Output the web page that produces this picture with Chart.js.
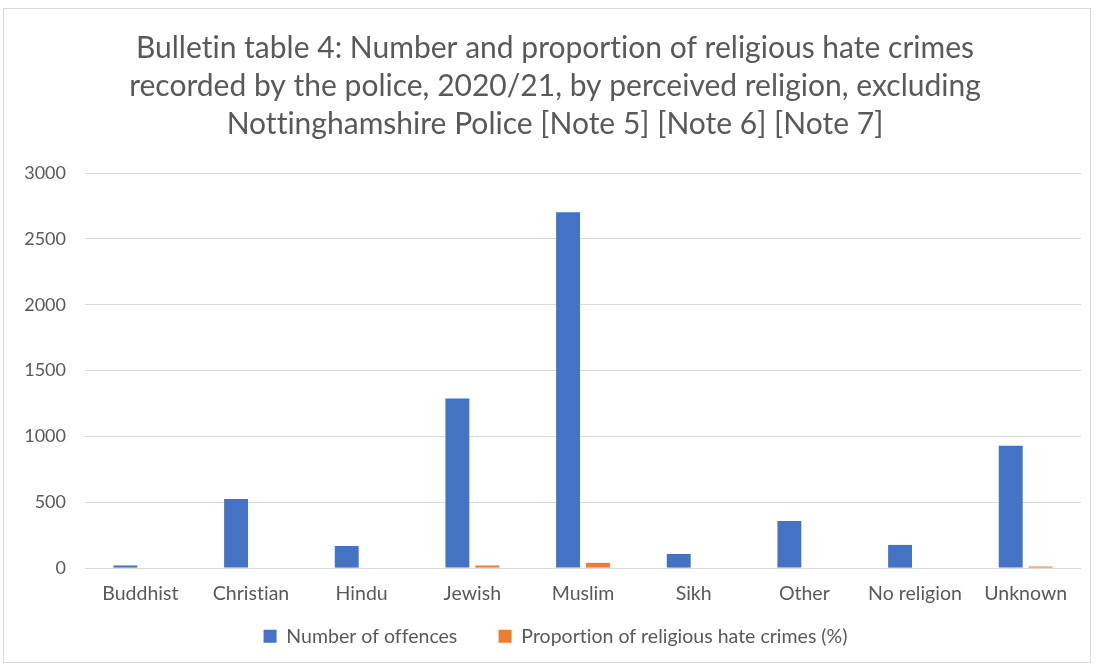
<!DOCTYPE html>
<html>
<head>
<meta charset="utf-8">
<script src="https://cdn.jsdelivr.net/npm/chart.js@4/dist/chart.umd.min.js"></script>
<style>
  html, body { margin: 0; padding: 0; background: #fff; }
  #wrap { position: relative; width: 1096px; height: 669px; }
  #frame { position: absolute; left: 3px; top: 8px; width: 1088px; height: 655px; border: 1px solid #d9d9d9; box-sizing: border-box; }
  #chart { position: absolute; left: 0; top: 0; }
</style>
</head>
<body>
<div id="wrap">
  <div id="frame"></div>
  <canvas id="chart" width="1096" height="669"></canvas>
</div>
<script>
// categories and values
const religions = ['Buddhist', 'Christian', 'Hindu', 'Jewish', 'Muslim', 'Sikh', 'Other', 'No religion', 'Unknown'];
const offences = [20, 525, 168, 1288, 2703, 107, 358, 176, 929];
const proportions = [0, 0, 0, 20, 40, 0, 0, 0, 12];
const yTicks = [0, 500, 1000, 1500, 2000, 2500, 3000];
const titleLines = [
    'Bulletin table 4: Number and proportion of religious hate crimes',
    'recorded by the police, 2020/21, by perceived religion, excluding',
    'Nottinghamshire Police [Note 5] [Note 6] [Note 7]'
];

const fontFamily = 'Lato, "Open Sans", sans-serif';
const textGrey = '#595959';

// tiny letter spacing keeps Lato from joining "ti" into a ligature
const noLigatures = {
    id: 'noLigatures',
    beforeDraw: (chart) => {
        chart.ctx.letterSpacing = '0.01px';
    }
};

// let the y labels use the space left of the layout padding (labels are clipped to the scale box)
const widenYLabels = {
    id: 'widenYLabels',
    afterLayout: (chart) => {
        chart.scales.y.left = 8;
    }
};

var ctx = document.getElementById('chart').getContext('2d');

var religionChart = new Chart(ctx, {
    type: 'bar',
    data: {
        labels: religions,
        datasets: [{
            label: 'Number of offences',
            data: offences,
            backgroundColor: '#4472C4',
            borderWidth: 0
        }, {
            label: 'Proportion of religious hate crimes (%)',
            data: proportions,
            backgroundColor: '#ED7D31',
            borderWidth: 0
        }]
    },
    plugins: [noLigatures, widenYLabels],
    options: {
        responsive: false,
        animation: false,
        layout: {
            padding: { left: 29, right: 15, top: 10, bottom: 13 }
        },
        datasets: {
            bar: {
                categoryPercentage: 0.54,
                barPercentage: 0.8
            }
        },
        plugins: {
            title: {
                display: true,
                text: titleLines,
                color: textGrey,
                font: { family: fontFamily, size: 30, weight: 'normal', lineHeight: 1.267 },
                padding: { top: 19, bottom: 30 }
            },
            legend: {
                position: 'bottom',
                labels: {
                    color: textGrey,
                    font: { family: fontFamily, size: 19.5 },
                    boxWidth: 13,
                    boxHeight: 13,
                    padding: 7,
                    // wider gap between the two legend entries without changing the legend height
                    generateLabels: (chart) => {
                        const items = Chart.defaults.plugins.legend.labels.generateLabels(chart);
                        items[0].text += '\u2002\u2002\u2002 ';
                        return items;
                    }
                }
            },
            tooltip: { enabled: false }
        },
        scales: {
            x: {
                grid: { display: false, drawTicks: false },
                border: { display: false },
                ticks: {
                    color: textGrey,
                    font: { family: fontFamily, size: 19.5 },
                    padding: 14,
                    maxRotation: 0
                }
            },
            y: {
                min: 0,
                max: 3000,
                afterBuildTicks: (scale) => {
                    scale.ticks = yTicks.map(v => ({ value: v }));
                },
                afterFit: (scale) => {
                    scale.width = 56;
                },
                grid: { color: '#d9d9d9', lineWidth: 1, drawTicks: false },
                border: { display: false },
                ticks: {
                    color: textGrey,
                    font: { family: fontFamily, size: 18 },
                    padding: 19,
                    callback: (value) => String(value)
                }
            }
        }
    }
});
</script>
</body>
</html>
